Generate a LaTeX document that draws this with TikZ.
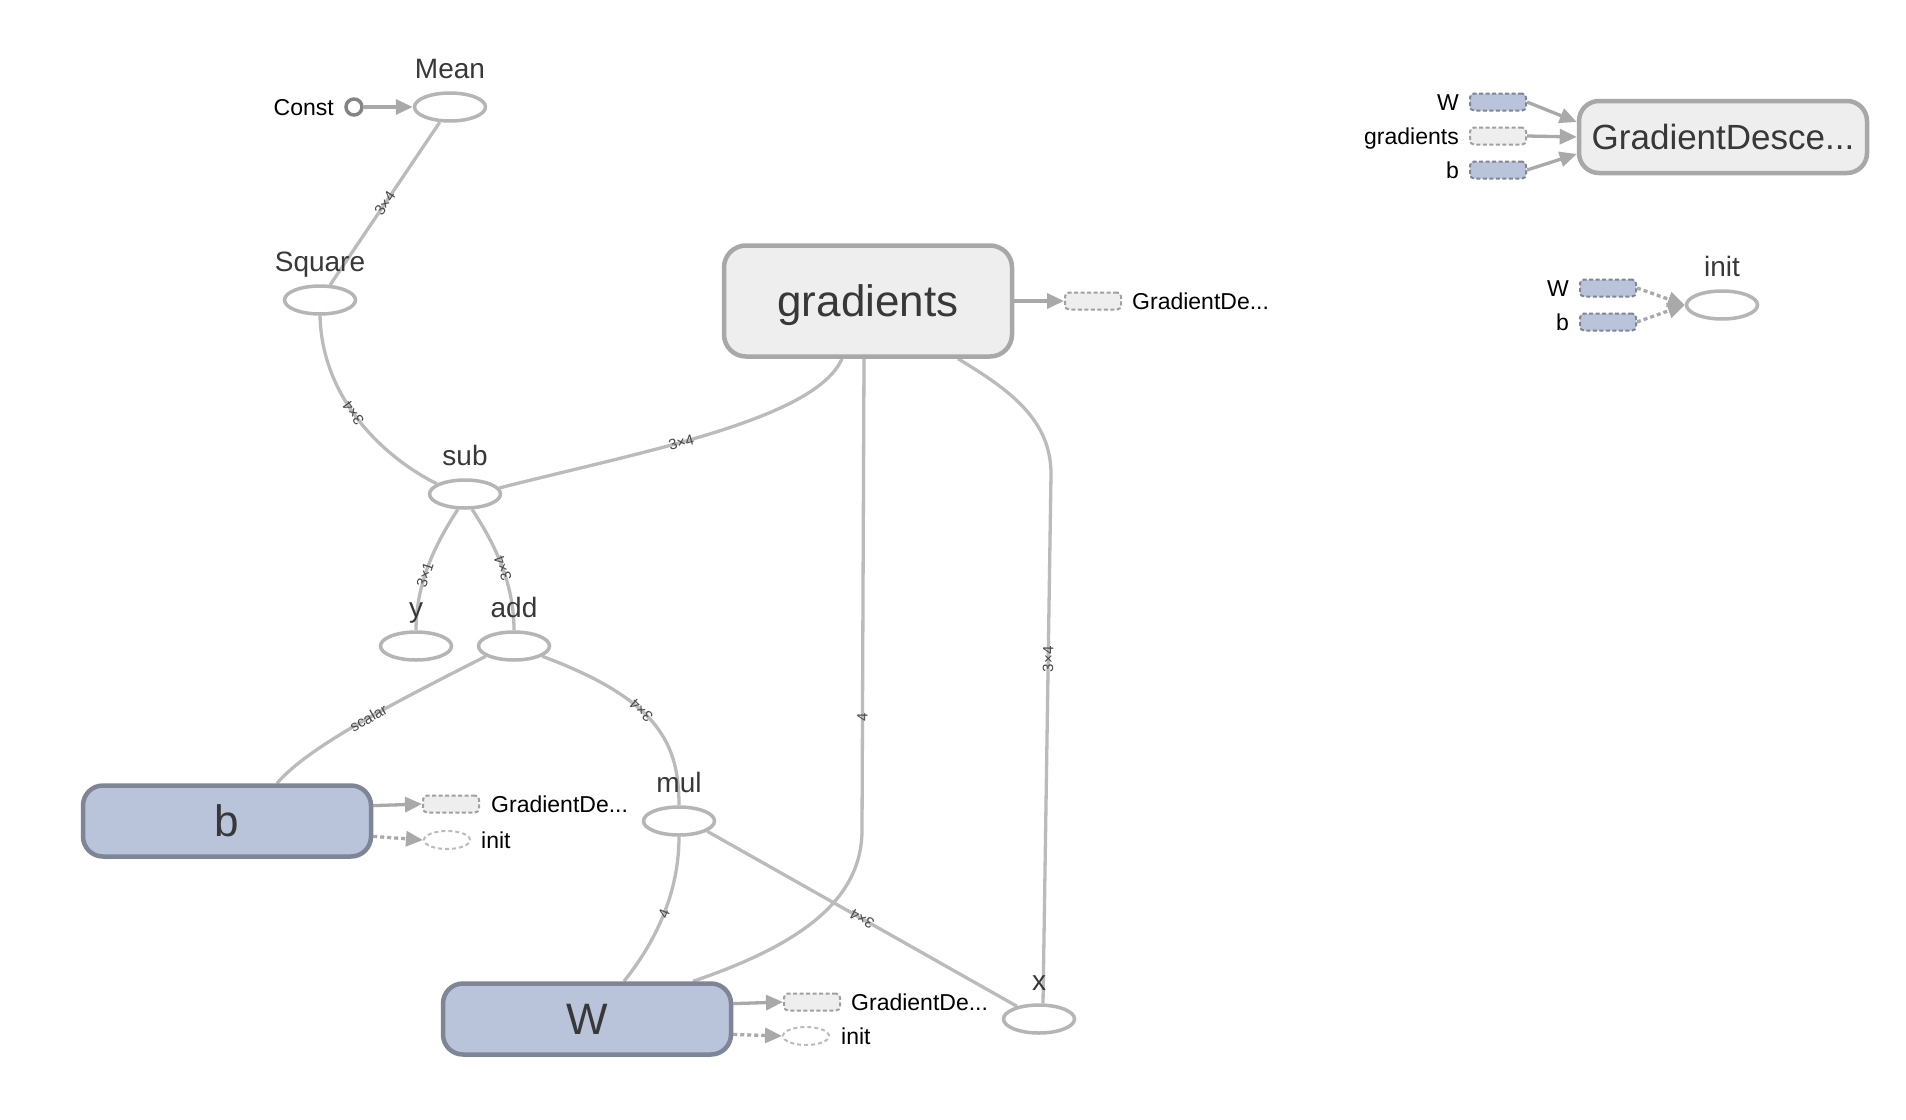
\documentclass[tikz,border=0pt]{standalone}
\usepackage{fontspec}
\setmainfont{Liberation Sans}
\usetikzlibrary{shapes.geometric,arrows.meta}
\pgfdeclarelayer{bg}
\pgfsetlayers{bg,main}
\definecolor{edgec}{HTML}{BBBBBB}
\definecolor{arrc}{HTML}{A9A9A9}
\definecolor{opc}{HTML}{B5B5B5}
\definecolor{boxfill}{HTML}{EEEEEE}
\definecolor{boxdraw}{HTML}{A8A8A8}
\definecolor{varfill}{HTML}{B9C4DB}
\definecolor{vardraw}{HTML}{7E8596}
\definecolor{txt}{HTML}{383838}
\definecolor{lbl}{HTML}{4A4A4A}
\definecolor{sgraydraw}{HTML}{A0A0A0}
\newcommand{\fsz}[1]{\fontsize{#1}{#1}\selectfont}
\begin{document}
\begin{tikzpicture}[x=1pt,y=-1pt,
  opnode/.style={ellipse, draw=opc, line width=3.5pt, fill=white, minimum width=71pt, minimum height=28pt, inner sep=0pt},
  oplabel/.style={text=txt, font=\fsz{28}, inner sep=0pt, anchor=base},
  slabel/.style={text=black, font=\fsz{23}, inner sep=0pt, text height=16pt, text depth=0pt},
  bigbox/.style={rectangle, rounded corners=22pt, draw=boxdraw, fill=boxfill, line width=4.5pt, minimum width=288pt, minimum height=111pt, text=txt, font=\fsz{44}, text height=31pt, text depth=0pt, inner sep=0pt},
  varbox/.style={rectangle, rounded corners=20pt, draw=vardraw, fill=varfill, line width=4.5pt, minimum width=288pt, minimum height=71pt, text=txt, font=\fsz{44}, text height=31pt, text depth=0pt, inner sep=0pt},
  gdbox/.style={rectangle, rounded corners=20pt, draw=boxdraw, fill=boxfill, line width=4.5pt, minimum width=288pt, minimum height=72pt, text=txt, font=\fsz{35}, text height=25pt, text depth=0pt, inner sep=0pt},
  srect/.style={rectangle, rounded corners=4pt, minimum width=56pt, minimum height=17pt, line width=2pt, dash pattern=on 4pt off 2.5pt, inner sep=0pt},
  sgray/.style={srect, fill=boxfill, draw=sgraydraw},
  sblue/.style={srect, fill=varfill, draw=vardraw},
  sell/.style={ellipse, draw=edgec, line width=2pt, dash pattern=on 4pt off 3pt, fill=white, minimum width=46pt, minimum height=18pt, inner sep=0pt},
  constc/.style={circle, draw=black!48, line width=3.5pt, fill=white, minimum size=16pt, inner sep=0pt},
  edge/.style={draw=edgec, line width=3.3pt},
  arr/.style={draw=arrc, line width=3.3pt, -{Triangle[length=17pt,width=15pt]}},
  darr/.style={arr, dash pattern=on 4pt off 3pt},
  elabel/.style={font=\fsz{15}, text=lbl, sloped, allow upside down, inner sep=1pt}
]
\useasboundingbox (0,0) rectangle (1906,1119);

% ---------- op nodes ----------
\node[constc] (const) at (354,107) {};
\node[slabel, anchor=east] (constl) at (334,107) {Const};
\node[opnode] (mean) at (450,107) {};
\node[oplabel] (meanl) at (450,78) {Mean};
\node[opnode] (square) at (320,300) {};
\node[oplabel] (squarel) at (320,271) {Square};
\node[opnode] (sub) at (465,494) {};
\node[oplabel] (subl) at (465,465) {sub};
\node[opnode] (y) at (416,646) {};
\node[oplabel] (yl) at (416,617) {y};
\node[opnode] (add) at (514,646) {};
\node[oplabel] (addl) at (514,617) {add};
\node[opnode] (mul) at (679,821) {};
\node[oplabel] (mull) at (679,792) {mul};
\node[opnode] (x) at (1039,1019) {};
\node[oplabel] (xl) at (1039,990) {x};

% ---------- boxes ----------
\node[bigbox] (gradients) at (868,301) {gradients};
\node[varbox] (b) at (227,821) {b};
\node[varbox] (W) at (587,1019) {W};
\node[gdbox] (GD) at (1723,137) {GradientDesce...};

% ---------- gradients output ----------
\node[sgray] (gradout) at (1093,301) {};
\node[slabel, anchor=west] (gradoutl) at (1132,301) {GradientDe...};

% ---------- b outputs ----------
\node[sgray] (bout) at (451,804) {};
\node[slabel, anchor=west] (boutl) at (491,804) {GradientDe...};
\node[sell] (binit) at (447,840) {};
\node[slabel, anchor=west] (binitl) at (481,840) {init};

% ---------- W outputs ----------
\node[sgray] (wout) at (812,1002) {};
\node[slabel, anchor=west] (woutl) at (851,1002) {GradientDe...};
\node[sell] (winit) at (806,1036) {};
\node[slabel, anchor=west] (winitl) at (841,1036) {init};

% ---------- GradientDescent inputs ----------
\node[sblue] (gdw) at (1498,102) {};
\node[slabel, anchor=east] (gdwl) at (1459,102) {W};
\node[sgray] (gdg) at (1498,136) {};
\node[slabel, anchor=east] (gdgl) at (1459,136) {gradients};
\node[sblue] (gdb) at (1498,170) {};
\node[slabel, anchor=east] (gdbl) at (1459,170) {b};

% ---------- init ----------
\node[opnode] (init) at (1722,305) {};
\node[oplabel] (initl) at (1722,276) {init};
\node[sblue] (initw) at (1608,288) {};
\node[slabel, anchor=east] (initwl) at (1569,288) {W};
\node[sblue] (initb) at (1608,322) {};
\node[slabel, anchor=east] (initbl) at (1569,322) {b};

% ---------- edges ----------
\begin{pgfonlayer}{bg}
\fill[white] (0,0) rectangle (1906,1119);
\draw[arr] (const) -- (mean);
\draw[edge] (square) -- node[elabel]{3×4} (mean);
\draw[edge] (sub.160) .. controls (385,458) and (322,400) .. node[elabel,pos=0.55]{3×4} (square.south);
\draw[edge] (sub.10) .. controls (640,452) and (815,420) .. node[elabel,pos=0.42]{3×4} ([xshift=-26pt]gradients.south);
\draw[edge] (y.north) .. controls (416,580) and (438,540) .. node[elabel,pos=0.4]{3×1} (sub.-115);
\draw[edge] (add.north) .. controls (514,580) and (492,540) .. node[elabel,pos=0.45]{3×4} (sub.-65);
\draw[edge] ([xshift=50pt]b.north) .. controls (310,745) and (400,700) .. node[elabel,pos=0.53]{scalar} (add.-160);
\draw[edge] (mul.north) .. controls (679,745) and (660,700) .. node[elabel,pos=0.6]{3×4} (add.-20);
\draw[edge] ([xshift=37pt]W.north) .. controls (665,930) and (679,880) .. node[elabel,pos=0.45]{4} (mul.south);
\draw[edge] (x.150) -- node[elabel]{3×4} (mul.-20);
\draw[edge] ([xshift=106pt]W.north) .. controls (800,945) and (862,900) .. (862,830) -- node[elabel,pos=0.24]{4} ([xshift=-4pt]gradients.south);
\draw[edge] ([xshift=4pt]x.north) -- node[elabel,pos=0.65]{3×4} (1051,474) .. controls (1051,420) and (1010,390) .. ([xshift=90pt]gradients.south);

\draw[arr] (gradients.east) -- (gradout.west);
\draw[arr] (b.6) -- (bout.west);
\draw[darr] (b.-6) -- (binit.west);
\draw[arr] (W.6) -- (wout.west);
\draw[darr] (W.-6) -- (winit.west);

\draw[arr] (gdw.east) -- ([yshift=15pt]GD.west);
\draw[arr] (gdg.east) -- (GD.west);
\draw[arr] (gdb.east) -- ([yshift=-17pt]GD.west);
\draw[darr] (initw.east) -- (init.west);
\draw[darr] (initb.east) -- (init.west);
\end{pgfonlayer}
\end{tikzpicture}
\end{document}
